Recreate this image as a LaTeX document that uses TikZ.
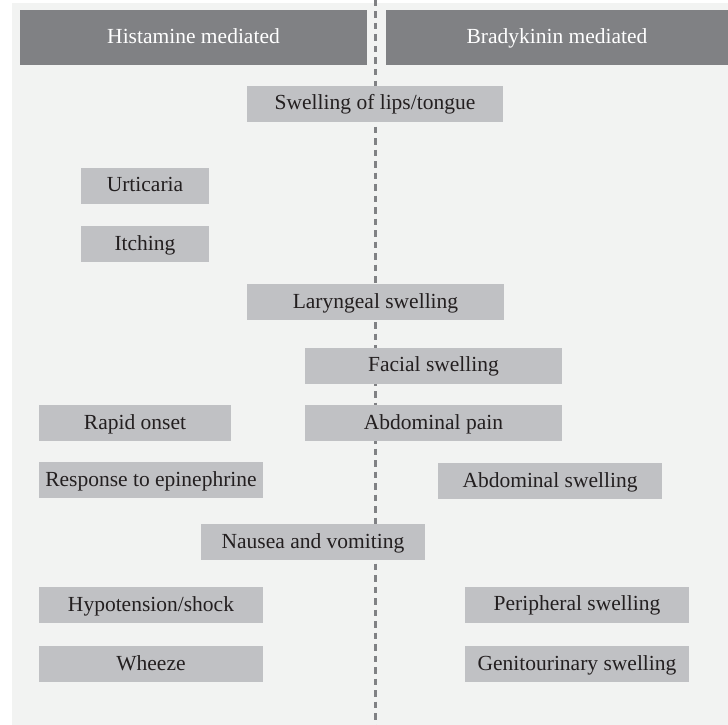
\documentclass[tikz,border=0pt]{standalone}
\usepackage{fontspec}
\setmainfont{Liberation Serif}
\definecolor{bgc}{HTML}{F2F3F2}
\definecolor{hdc}{HTML}{808184}
\definecolor{bxc}{HTML}{C0C1C4}
\definecolor{txc}{HTML}{231F20}
\definecolor{dlc}{HTML}{808184}
\begin{document}
\begin{tikzpicture}[x=1pt,y=-1pt,
  hdr/.style={rectangle, fill=hdc, draw=none, inner sep=0pt, minimum height=55pt, text=white, text height=14pt, text depth=2pt, font=\fontsize{21.5}{24}\selectfont},
  sbox/.style={rectangle, fill=bxc, draw=none, inner sep=0pt, minimum height=36pt, text=txc, text height=14pt, text depth=2pt, font=\fontsize{21.5}{24}\selectfont},
  divline/.style={draw=dlc, line width=3pt, dash pattern=on 6.5pt off 5pt}]
\useasboundingbox (0,0) rectangle (728,725);
\fill[bgc] (12,3) rectangle (728,725);
\coordinate (dtop) at (375,0);
\coordinate (dbot) at (375,725);
\draw[divline] (dtop) -- (dbot);
\node[hdr, minimum width=347pt] (hist) at (193.5,37.5) {Histamine mediated};
\node[hdr, minimum width=342pt] (brad) at (557,37.5) {Bradykinin mediated};
\node[sbox, minimum width=256pt] (lips) at (375,103.5) {Swelling of lips/tongue};
\node[sbox, minimum width=128pt] (urt) at (145,185.5) {Urticaria};
\node[sbox, minimum width=128pt] (itch) at (145,244) {Itching};
\node[sbox, minimum width=257pt] (lar) at (375.5,302) {Laryngeal swelling};
\node[sbox, minimum width=257pt] (fac) at (433.5,365.5) {Facial swelling};
\node[sbox, minimum width=192pt] (rapid) at (135,423) {Rapid onset};
\node[sbox, minimum width=257pt] (abdp) at (433.5,423) {Abdominal pain};
\node[sbox, minimum width=224pt] (resp) at (151,480) {Response to epinephrine};
\node[sbox, minimum width=224pt] (abds) at (550,481) {Abdominal swelling};
\node[sbox, minimum width=224pt] (naus) at (313,542) {Nausea and vomiting};
\node[sbox, minimum width=224pt] (hypo) at (151,605) {Hypotension/shock};
\node[sbox, minimum width=224pt] (peri) at (577,604.5) {Peripheral swelling};
\node[sbox, minimum width=224pt] (whz) at (151,664) {Wheeze};
\node[sbox, minimum width=224pt] (gen) at (577,664) {Genitourinary swelling};
\end{tikzpicture}
\end{document}
